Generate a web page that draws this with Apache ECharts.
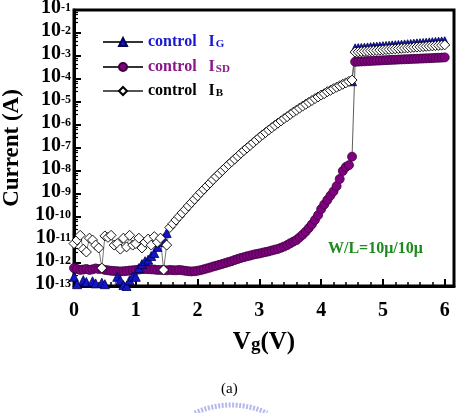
<!DOCTYPE html>
<html>
<head>
<meta charset="utf-8">
<script src="https://cdn.jsdelivr.net/npm/echarts@6/dist/echarts.min.js"></script>
<style>
  html,body{margin:0;padding:0;background:#fff;}
  #main{width:461px;height:413px;}
</style>
</head>
<body>
<div id="main"></div>
<script>
var font = 'Liberation Serif';

// gate voltage (V)
var vg = [0,0.05,0.1,0.15,0.2,0.25,0.3,0.35,0.4,0.45,
  0.5,0.55,0.6,0.65,0.7,0.75,0.8,0.85,0.9,0.95,
  1,1.05,1.1,1.15,1.2,1.25,1.3,1.35,1.4,1.45,
  1.5,1.55,1.6,1.65,1.7,1.75,1.8,1.85,1.9,1.95,
  2,2.05,2.1,2.15,2.2,2.25,2.3,2.35,2.4,2.45,
  2.5,2.55,2.6,2.65,2.7,2.75,2.8,2.85,2.9,2.95,
  3,3.05,3.1,3.15,3.2,3.25,3.3,3.35,3.4,3.45,
  3.5,3.55,3.6,3.65,3.7,3.75,3.8,3.85,3.9,3.95,
  4,4.05,4.1,4.15,4.2,4.25,4.3,4.35,4.4,4.45,
  4.5,4.55,4.6,4.65,4.7,4.75,4.8,4.85,4.9,4.95,
  5,5.05,5.1,5.15,5.2,5.25,5.3,5.35,5.4,5.45,
  5.5,5.55,5.6,5.65,5.7,5.75,5.8,5.85,5.9,5.95,
  6];

// control IG (A)
var ig = [2.5e-13,1.2e-13,8e-14,1.8e-13,1.5e-13,8e-14,1.6e-13,1.3e-13,9e-14,1.4e-13,
  1.2e-13,8e-14,7e-14,9e-14,2.5e-13,1.8e-13,1.1e-13,1.0e-13,1.8e-13,2.6e-13,
  2.5e-13,6e-13,9e-13,1.2e-12,1.4e-12,2.0e-12,2.7e-12,5e-12,8e-12,1.2e-11,
  2.0e-11,null,null,null,null,null,null,null,null,null,
  null,null,null,null,null,null,null,null,null,null,
  null,null,null,null,null,null,null,null,null,null,
  null,null,null,null,null,null,null,null,null,null,
  null,null,null,null,null,null,null,null,null,null,
  null,null,null,null,null,null,null,null,null,null,
  8e-5,2.15e-3,2.2e-3,2.25e-3,2.3e-3,2.37e-3,2.43e-3,2.5e-3,2.55e-3,2.62e-3,
  2.68e-3,2.75e-3,2.82e-3,2.9e-3,2.96e-3,3.04e-3,3.1e-3,3.2e-3,3.27e-3,3.34e-3,
  3.45e-3,3.54e-3,3.62e-3,3.7e-3,3.8e-3,3.9e-3,4.0e-3,4.1e-3,4.2e-3,4.3e-3,
  4.4e-3];

// control ISD (A)
var isd = [6e-13,5.5e-13,5e-13,5.2e-13,5.5e-13,5e-13,5.3e-13,5.8e-13,5.5e-13,5.6e-13,
  5e-13,4.8e-13,4.6e-13,4.5e-13,4.4e-13,4.3e-13,4.4e-13,4.5e-13,4.7e-13,4.8e-13,
  5e-13,5.2e-13,5.4e-13,5.5e-13,5.4e-13,5.3e-13,5.2e-13,5e-13,5e-13,4.9e-13,
  4.8e-13,5e-13,4.9e-13,4.8e-13,5e-13,4.8e-13,4.6e-13,4.4e-13,4.3e-13,4.4e-13,
  4.6e-13,4.9e-13,5.3e-13,5.8e-13,6.3e-13,7e-13,7.6e-13,8.3e-13,9.1e-13,1.0e-12,
  1.1e-12,1.2e-12,1.35e-12,1.5e-12,1.65e-12,1.8e-12,1.95e-12,2.1e-12,2.3e-12,2.45e-12,
  2.6e-12,2.8e-12,3.0e-12,3.2e-12,3.5e-12,3.8e-12,4.1e-12,4.6e-12,5.2e-12,6.0e-12,
  7.2e-12,8.5e-12,1.0e-11,1.3e-11,1.7e-11,2.3e-11,3.3e-11,4.8e-11,7.5e-11,1.2e-10,
  2.2e-10,3.5e-10,5.5e-10,8.5e-10,1.3e-9,2.2e-9,4.5e-9,1.0e-8,1.5e-8,1.8e-8,
  4.2e-8,5.6e-4,5.7e-4,5.8e-4,5.9e-4,6.0e-4,6.1e-4,6.2e-4,6.3e-4,6.4e-4,
  6.5e-4,6.6e-4,6.7e-4,6.8e-4,6.9e-4,7.0e-4,7.1e-4,7.2e-4,7.3e-4,7.4e-4,
  7.5e-4,7.6e-4,7.7e-4,7.8e-4,7.9e-4,8.0e-4,8.1e-4,8.3e-4,8.4e-4,8.5e-4,
  8.7e-4];

// control IB (A)
var ib = [7e-12,1.0e-11,1.6e-11,4e-12,3e-12,1.2e-11,1.0e-11,6e-12,4.5e-12,6e-13,
  1.5e-11,1.3e-11,1.6e-11,6e-12,7e-12,4e-12,1.2e-11,5e-12,1.6e-11,6e-12,
  7e-12,1.2e-11,4.5e-12,8e-12,1.1e-11,6e-12,1.4e-11,8e-12,1.2e-11,5e-13,
  6e-12,3.5e-11,5.1e-11,7.4e-11,1.05e-10,1.5e-10,2.1e-10,3.0e-10,4.2e-10,5.9e-10,
  8.3e-10,1.16e-9,1.6e-9,2.2e-9,3.0e-9,4.2e-9,5.7e-9,7.7e-9,1.04e-8,1.4e-8,
  1.9e-8,2.5e-8,3.3e-8,4.4e-8,5.9e-8,7.7e-8,1.0e-7,1.3e-7,1.7e-7,2.2e-7,
  2.9e-7,3.7e-7,4.7e-7,6.0e-7,7.6e-7,9.6e-7,1.2e-6,1.5e-6,1.9e-6,2.3e-6,
  2.9e-6,3.6e-6,4.4e-6,5.4e-6,6.6e-6,8.0e-6,9.6e-6,1.16e-5,1.4e-5,1.66e-5,
  2.0e-5,2.3e-5,2.8e-5,3.2e-5,3.8e-5,4.4e-5,5.1e-5,5.9e-5,6.8e-5,7.9e-5,
  9.0e-5,1.48e-3,1.52e-3,1.55e-3,1.6e-3,1.63e-3,1.68e-3,1.72e-3,1.75e-3,1.8e-3,
  1.85e-3,1.9e-3,1.94e-3,2.0e-3,2.04e-3,2.1e-3,2.15e-3,2.2e-3,2.25e-3,2.3e-3,
  2.38e-3,2.44e-3,2.5e-3,2.55e-3,2.62e-3,2.68e-3,2.75e-3,2.82e-3,2.9e-3,2.96e-3,
  3.04e-3];

var xTicks = [0,1,2,3,4,5,6];
var legendSubs = {IG:'G', ISD:'SD', IB:'B'};
var legendColors = {IG:'#1717d4', ISD:'#8a168a', IB:'#000000'};

function pairs(ys){
  var out = [];
  for (var i = 0; i < vg.length; i++) {
    out.push([vg[i], ys[i] == null ? '-' : ys[i]]);
  }
  return out;
}

function legendOf(name, top){
  var c = legendColors[name];
  return {
    data:[name], left:97, top:top, orient:'vertical',
    itemWidth:40, itemHeight:10,
    formatter:function(n){ return '{a|control}{i|I}{s|' + legendSubs[n] + '}'; },
    textStyle:{
      color:c,
      rich:{
        a:{fontFamily:font, fontWeight:'bold', fontSize:16, color:c, lineHeight:16, verticalAlign:'top', padding:[0,0,0,0]},
        i:{fontFamily:font, fontWeight:'bold', fontSize:16, color:c, lineHeight:16, verticalAlign:'top', padding:[0,0,0,12]},
        s:{fontFamily:font, fontWeight:'bold', fontSize:11, color:c, lineHeight:11, verticalAlign:'bottom', padding:[8,0,0,1]}
      }
    }
  };
}

var chart = echarts.init(document.getElementById('main'));
var option = {
  animation:false,
  backgroundColor:'#fff',
  grid:{left:74, right:7, top:10, bottom:127, containLabel:false, outerBoundsMode:'none',
    show:true, borderColor:'#000', borderWidth:3, backgroundColor:'transparent'},
  legend:[legendOf('IG', 26), legendOf('ISD', 51), legendOf('IB', 75)],
  xAxis:[{
    type:'value', min:0, max:6.15, interval:1,
    axisLine:{show:true, lineStyle:{color:'#000', width:3}},
    axisTick:{inside:true, length:7, lineStyle:{color:'#000', width:2}},
    splitLine:{show:false},
    axisLabel:{
      showMaxLabel:false, margin:15, color:'#000',
      fontFamily:font, fontWeight:'bold', fontSize:20,
      formatter:function(v){ return xTicks.indexOf(v) >= 0 ? String(v) : ''; }
    },
    name:'{v|V}{g|g}{v|(V)}', nameLocation:'middle', nameGap:36,
    nameTextStyle:{
      rich:{
        v:{fontFamily:font, fontWeight:'bold', fontSize:25, color:'#000', lineHeight:25, verticalAlign:'top'},
        g:{fontFamily:font, fontWeight:'bold', fontSize:19, color:'#000', lineHeight:19, verticalAlign:'bottom', padding:[10,0,0,0]}
      }
    }
  },{
    type:'value', min:0, max:6.15, interval:0.2, position:'bottom',
    axisLine:{show:false},
    axisTick:{inside:true, length:4, lineStyle:{color:'#000', width:1.5}},
    axisLabel:{show:false},
    splitLine:{show:false}
  }],
  yAxis:{
    type:'log', logBase:10, min:1e-13, max:1e-1, interval:1,
    axisLine:{show:true, lineStyle:{color:'#000', width:3}},
    axisTick:{inside:true, length:7, lineStyle:{color:'#000', width:2}},
    minorTick:{show:true, splitNumber:5, length:4, lineStyle:{color:'#000', width:1.2}},
    splitLine:{show:false},
    axisLabel:{
      interval:0, margin:3, color:'#000', showMinLabel:true, showMaxLabel:true, hideOverlap:false,
      formatter:function(v){
        var p = Math.round(Math.log(v) / Math.LN10);
        return '{b|10}{s|' + p + '}';
      },
      rich:{
        b:{fontFamily:font, fontWeight:'bold', fontSize:20, color:'#000', lineHeight:16, verticalAlign:'bottom', padding:[3,0,0,0]},
        s:{fontFamily:font, fontWeight:'bold', fontSize:12, color:'#000', lineHeight:11, verticalAlign:'top'}
      }
    },
    name:'Current (A)', nameLocation:'middle', nameGap:50,
    nameTextStyle:{fontFamily:font, fontWeight:'bold', fontSize:23, color:'#000'}
  },
  series:[{
    name:'ISD', type:'line', data:pairs(isd),
    symbol:'circle', symbolSize:9, clip:true,
    itemStyle:{color:'#800080', borderColor:'#3a003a', borderWidth:0.8},
    lineStyle:{color:'#333', width:0.8}
  },{
    name:'IG', type:'line', data:pairs(ig),
    symbol:'triangle', symbolSize:9, clip:true,
    itemStyle:{color:'#1414c8', borderColor:'#000050', borderWidth:0.8},
    lineStyle:{color:'#333', width:0.8}
  },{
    name:'IB', type:'line', data:pairs(ib),
    symbol:'diamond', symbolSize:10, clip:true,
    itemStyle:{color:'#fff', borderColor:'#000', borderWidth:0.9},
    lineStyle:{color:'#555', width:0.8}
  }],
  graphic:[{
    type:'text', left:328, top:241,
    style:{text:'W/L=10\u03bc/10\u03bc', fill:'#1f8a1f', font:'bold 16px "Liberation Serif"'}
  },{
    type:'text', left:221, top:382,
    style:{text:'(a)', fill:'#000', font:'15px "Liberation Serif"'}
  },{
    type:'arc', silent:true,
    shape:{cx:231, cy:490, r:85, startAngle:-Math.PI/2 - 0.44, endAngle:-Math.PI/2 + 0.44},
    style:{stroke:'#b4b8ee', lineWidth:5, lineDash:[2,1.5], fill:null}
  }]
};
chart.setOption(option);
</script>
</body>
</html>
